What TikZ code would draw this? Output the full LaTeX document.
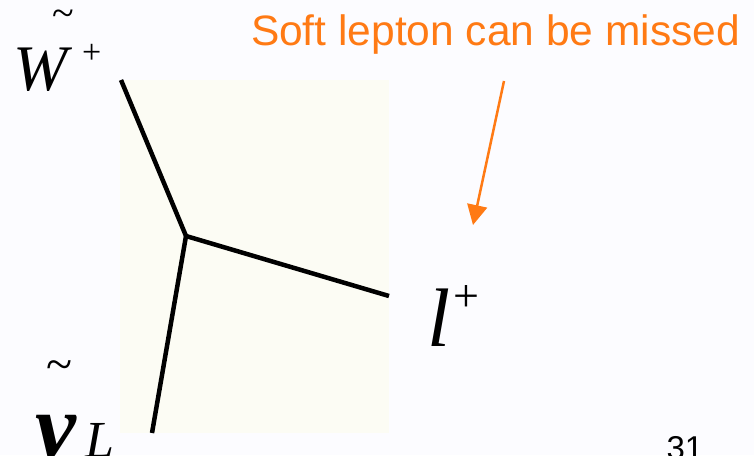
\documentclass[tikz,border=0pt]{standalone}
\usepackage{fontspec}
\setmainfont{Liberation Serif}
\newfontfamily\arialfont{Liberation Sans}
\usetikzlibrary{arrows.meta}
\definecolor{pagebg}{RGB}{252,252,255}
\definecolor{panel}{RGB}{252,252,244}
\definecolor{orng}{RGB}{255,122,20}
\begin{document}
\begin{tikzpicture}[x=1pt,y=-1pt,
  leg/.style={line width=4.5pt, black},
  lbl/.style={inner sep=0pt, outer sep=0pt, anchor=base west},
  fs/.style={font=\fontsize{#1}{#1}\selectfont}]
\fill[pagebg] (0,0) rectangle (754,455);
\useasboundingbox (0,0) rectangle (754,455);
\fill[panel] (120,80) rectangle (389,433);
% vertex and legs
\coordinate (v) at (186,236);
\coordinate (wend) at (121,80);
\coordinate (lend) at (389,296);
\coordinate (nend) at (152,433);
\draw[leg] (v) -- (wend);
\draw[leg] (v) -- (lend);
\draw[leg] (v) -- (nend);
% W~+
\node[lbl, font=\fontsize{65}{65}\selectfont\itshape] (W) at (13,90) {W};
\node[lbl, fs=40] (Wtilde) at (52,27) {\char"7E};
\node[lbl, fs=34] (Wplus) at (82,63) {+};
% nu~_L
\node[lbl, font=\fontsize{92}{92}\selectfont\bfseries\itshape] (nu) at (35,457) {ν};
\node[lbl, fs=48] (nutilde) at (46,380) {\char"7E};
\node[lbl, font=\fontsize{52}{52}\selectfont\itshape] (L) at (85,457) {L};
% l+
\node[lbl, font=\fontsize{83}{83}\selectfont\itshape] (lep) at (427,346) {l};
\node[lbl, fs=46] (lplus) at (453,311) {+};
% annotation
\node[lbl, text=orng, font=\arialfont\fontsize{42.5}{42.5}\selectfont] (soft) at (251,45) {Soft lepton can be missed};
\coordinate (as) at (504,81);
\coordinate (ae) at (473,225);
\draw[orng, line width=2.5pt, -{Triangle[length=20pt,width=20pt]}] (as) -- (ae);
% page number
\node[lbl, font=\arialfont\fontsize{33}{33}\selectfont] (pg) at (666.5,459) {31};
\end{tikzpicture}
\end{document}
